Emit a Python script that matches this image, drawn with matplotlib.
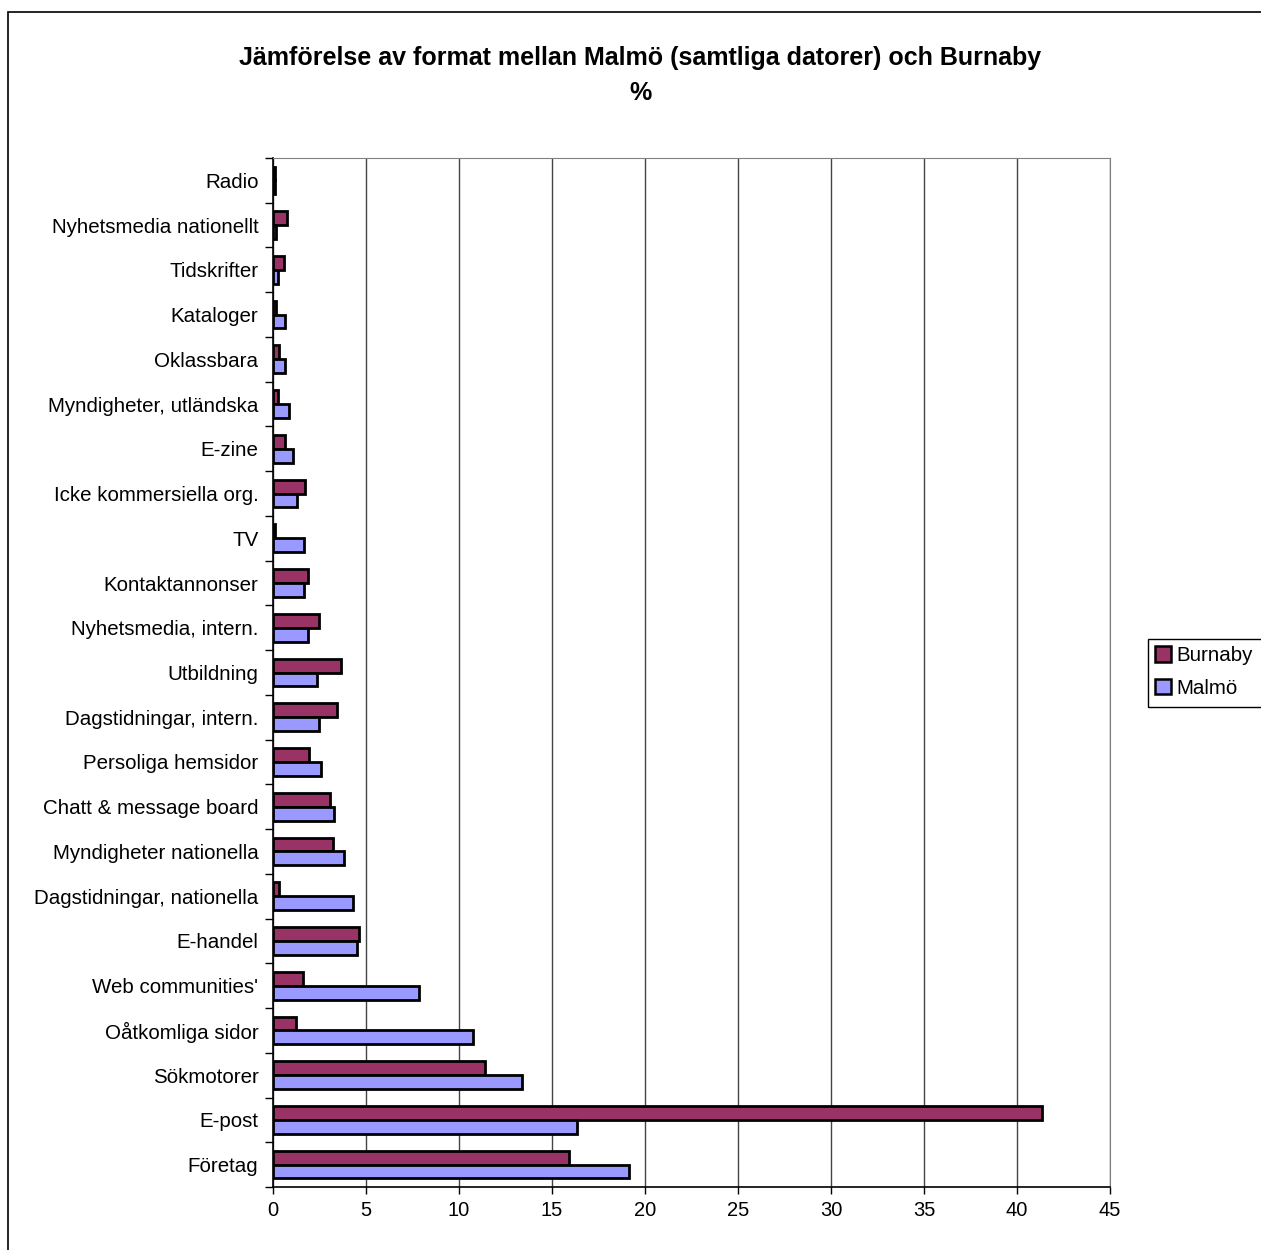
import matplotlib.pyplot as plt
import matplotlib.patches as mpatches
import numpy as np

plt.rcParams["font.family"] = ["Liberation Sans", "DejaVu Sans"]

# Categories listed bottom -> top
categories = [
    "Företag", "E-post", "Sökmotorer", "Oåtkomliga sidor", "Web communities'",
    "E-handel", "Dagstidningar, nationella", "Myndigheter nationella",
    "Chatt & message board", "Persoliga hemsidor", "Dagstidningar, intern.",
    "Utbildning", "Nyhetsmedia, intern.", "Kontaktannonser", "TV",
    "Icke kommersiella org.", "E-zine", "Myndigheter, utländska", "Oklassbara",
    "Kataloger", "Tidskrifter", "Nyhetsmedia nationellt", "Radio",
]
burnaby = [15.9, 41.35, 11.4, 1.25, 1.6,
           4.6, 0.3, 3.23,
           3.04, 1.93, 3.45,
           3.68, 2.45, 1.89, 0.12,
           1.73, 0.66, 0.29, 0.32,
           0.15, 0.59, 0.73, 0.1]
malmo = [19.15, 16.33, 13.38, 10.73, 7.87,
         4.5, 4.32, 3.84,
         3.29, 2.59, 2.45,
         2.34, 1.86, 1.64, 1.64,
         1.3, 1.07, 0.84, 0.63,
         0.63, 0.29, 0.15, 0.1]
x_ticks = list(range(0, 50, 5))

W, H = 1261, 1250
fig = plt.figure(figsize=(W / 100, H / 100), dpi=100)
ax = fig.add_axes([273 / W, 1 - 1187 / H, (1110 - 273) / W, (1187 - 158) / H])

# outer chart border
fig.patches.append(mpatches.Rectangle((8 / W, -0.01), 1.0, 1 - 12 / H + 0.01,
                                      transform=fig.transFigure, fill=False,
                                      edgecolor="black", linewidth=1.2))

y = np.arange(len(categories))
h = 0.31
ax.barh(y + h / 2, burnaby, height=h, color="#993366", edgecolor="black",
        linewidth=2, label="Burnaby", zorder=3)
ax.barh(y - h / 2, malmo, height=h, color="#9999FF", edgecolor="black",
        linewidth=2, label="Malmö", zorder=3)

ax.set_xlim(0, 45)
ax.set_ylim(-0.5, len(categories) - 0.5)
ax.set_xticks(x_ticks)
ax.set_xticklabels([str(t) for t in x_ticks], fontsize=14.5)
ax.tick_params(axis="x", length=5, width=1, pad=5)

# category ticks between groups, labels at the centre
ax.set_yticks(np.arange(len(categories) + 1) - 0.5)
ax.set_yticklabels([])
ax.tick_params(axis="y", which="major", length=6, width=1, direction="out")
ax.set_yticks(y, minor=True)
ax.set_yticklabels(categories, minor=True, fontsize=14.8)
ax.tick_params(axis="y", which="minor", length=0, pad=10.5)

ax.grid(axis="x", color="#444444", linewidth=1, zorder=0)
for side in ["top", "right"]:
    ax.spines[side].set_color("#808080")
for side in ["left", "bottom"]:
    ax.spines[side].set_color("black")
    ax.spines[side].set_linewidth(1.2)

fig.text(640 / W, 1 - 58 / H, "Jämförelse av format mellan Malmö (samtliga datorer) och Burnaby",
         ha="center", va="center", fontsize=18, fontweight="bold")
fig.text(640 / W, 1 - 93 / H, "%", ha="center", va="center", fontsize=18, fontweight="bold")

# legend box runs off the right edge, as in the original
fig.patches.append(mpatches.Rectangle((1148 / W, 1 - 707 / H), 0.2, 68 / H,
                                      transform=fig.transFigure, fill=False,
                                      edgecolor="black", linewidth=1))
leg = ax.legend(loc="upper left", bbox_to_anchor=(1148 / W, 1 - 639 / H),
                bbox_transform=fig.transFigure, borderaxespad=0, fontsize=14.8,
                frameon=False,
                handlelength=0.75, handleheight=0.75, handletextpad=0.3,
                borderpad=0.35, labelspacing=0.65)
for p in leg.get_patches():
    p.set_linewidth(1.8)

fig.savefig("out.png", dpi=100)
